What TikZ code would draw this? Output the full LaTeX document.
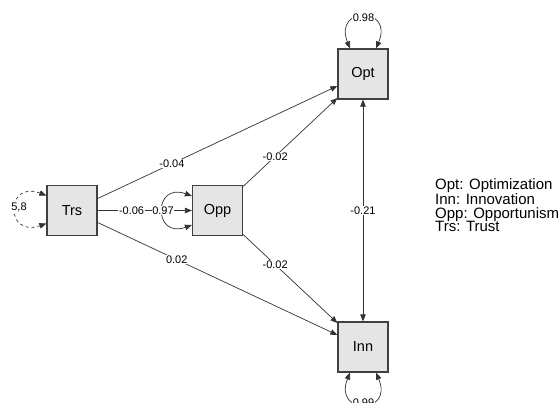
\documentclass[tikz,border=0pt]{standalone}
\usepackage{fontspec}
\setmainfont{Liberation Sans}
\usetikzlibrary{arrows.meta}
\usetikzlibrary{positioning}

\begin{document}
\begin{tikzpicture}[x=1pt, y=-1pt,
		var/.style = {draw=black!75, line width=1.2pt, fill=black!10, minimum size=50pt, inner sep=0pt, font=\fontsize{14.5}{16}\selectfont},
		reg/.style = {draw=black!80, line width=.7pt, -{Triangle[length=7pt,width=5.5pt]}},
		cov/.style = {draw=black!80, line width=.7pt, {Triangle[length=7pt,width=5.5pt]}-{Triangle[length=7pt,width=5.5pt]}},
		est/.style = {fill=white, inner sep=.6pt, font=\fontsize{11}{12}\selectfont}]
		\useasboundingbox (0,0) rectangle (559,402);
		% latent boxes
		\node[var] (trs) at (72,210.5) {Trs};
		\node[var] (opp) at (217.5,210.5) {Opp};
		\node[var] (opt) at (363,74) {Opt};
		\node[var] (inn) at (363,347) {Inn};
		% paths
		\draw[reg] (trs) -- node[est, pos=.31] (e1) {-0.04} (opt);
		\draw[reg] (trs) -- node[est, pos=.33] (e2) {0.02} (inn);
		\draw[reg] (trs) -- node[est, pos=.36] (e3) {-0.06} (opp);
		\draw[reg] (opp) -- node[est, pos=.34] (e4) {-0.02} (opt);
		\draw[reg] (opp) -- node[est, pos=.34] (e5) {-0.02} (inn);
		\draw[cov] (opt) -- node[est, pos=.5] (e6) {-0.21} (inn);
		% variances
		\draw[cov, dashed] ([yshift=15pt]trs.west) .. controls (5,180) and (5,238) .. ([yshift=-13pt]trs.west);
		\node[est] (v1) at (19,207) {5,8};
		\draw[cov] ([yshift=14.5pt]opp.west) .. controls (153,182) and (153,239) .. ([yshift=-14.5pt]opp.west);
		\node[est] (v2) at (163,210.5) {0.97};
		\draw[cov] ([xshift=-13pt]opt.north) .. controls (333,6) and (394,6) .. ([xshift=13pt]opt.north);
		\node[est] (v3) at (363.5,17.5) {0.98};
		\draw[cov] ([xshift=-13pt]inn.south) .. controls (333,415) and (394,415) .. ([xshift=13pt]inn.south);
		\node[est] (v4) at (363.5,403) {0.99};
		% legend
		\node[anchor=west, align=left, inner sep=0pt, font=\fontsize{15}{13.5}\selectfont] (key) at (435,205.5) {Opt: Optimization\\Inn: Innovation\\Opp: Opportunism\\Trs: Trust};
	\end{tikzpicture}
\end{document}
